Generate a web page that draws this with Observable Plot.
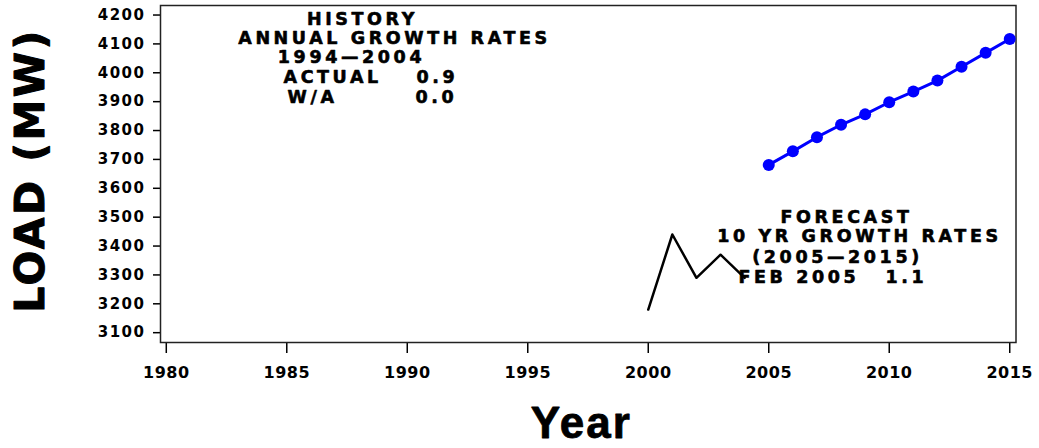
<!DOCTYPE html>
<html>
<head>
<meta charset="utf-8">
<script src="https://cdn.jsdelivr.net/npm/d3@7"></script>
<script src="https://cdn.jsdelivr.net/npm/@observablehq/plot@0.6"></script>
<style>
  html, body { margin: 0; padding: 0; background: #fff; }
  svg g[aria-label="y-axis tick label"] text { letter-spacing: 1.5px; }
  svg g[aria-label="x-axis tick label"] text { letter-spacing: 0.5px; }
  svg g[font-size="17.5"] text { letter-spacing: 3.6px; }
  svg g[font-size="41"] text { letter-spacing: 2.5px; }
  svg g[font-size="44"] text { letter-spacing: 2px; }
</style>
</head>
<body>
<div id="chart"></div>
<script>
// ---- data ----
const histYears = [2000, 2001, 2002, 2003, 2004];
const histLoad = [3180, 3440, 3290, 3370, 3290];
const fcYears = [2005, 2006, 2007, 2008, 2009, 2010, 2011, 2012, 2013, 2014, 2015];
const fcLoad = [3681, 3728, 3777, 3820, 3856, 3898, 3935, 3973, 4021, 4069, 4117];
const xTicks = [1980, 1985, 1990, 1995, 2000, 2005, 2010, 2015];
const yTicks = [3100, 3200, 3300, 3400, 3500, 3600, 3700, 3800, 3900, 4000, 4100, 4200];
const historyLines = ["HISTORY", "ANNUAL GROWTH RATES", "1994\u20142004"];
const historyRows = ["ACTUAL", "W/A"];
const historyRates = ["0.9", "0.0"];
const forecastLines = ["FORECAST", "10 YR GROWTH RATES", "(2005\u20142015)"];
const forecastRows = ["FEB 2005"];
const forecastRates = ["1.1"];
const xLabel = "Year";
const yLabel = "LOAD (MW)";

const hist = histYears.map((x, i) => ({x, y: histLoad[i]}));
const fc = fcYears.map((x, i) => ({x, y: fcLoad[i]}));

const ML = 160, MT = 5;
function note(str, px, py, anchor) {
  return Plot.text([str], {
    text: d => d, frameAnchor: "top-left", dx: px - ML, dy: py - MT,
    textAnchor: anchor, lineAnchor: "middle",
    fontSize: 17.5, fontWeight: "bold", fontFamily: "DejaVu Sans",
    fill: "black", stroke: "black", strokeWidth: 0.6
  });
}

const chart = Plot.plot({
  width: 1039,
  height: 448,
  marginLeft: ML,
  marginRight: 23.5,
  marginTop: MT,
  marginBottom: 106,
  style: {background: "white", color: "black", fontFamily: "DejaVu Sans"},
  x: {domain: [1979.76, 2015.26]},
  y: {domain: [3066, 4233]},
  marks: [
    Plot.axisX({ticks: xTicks, tickSize: 11, tickPadding: 13, tickFormat: d => String(d),
      fontSize: 16, fontWeight: "bold", fontFamily: "DejaVu Sans", strokeWidth: 1.5, label: null}),
    Plot.axisY({ticks: yTicks, tickSize: 7, tickPadding: 8, tickFormat: d => String(d),
      fontSize: 15, fontWeight: "bold", fontFamily: "DejaVu Sans", strokeWidth: 1.5, label: null}),
    Plot.frame({stroke: "#222", strokeWidth: 1.5}),
    Plot.line(hist, {x: "x", y: "y", stroke: "black", strokeWidth: 2.5}),
    Plot.line(fc, {x: "x", y: "y", stroke: "#0000ff", strokeWidth: 3}),
    Plot.dot(fc, {x: "x", y: "y", r: 6, fill: "#0000ff", stroke: "none"}),
    note(historyLines[0], 362, 18.5, "middle"),
    note(historyLines[1], 394, 38, "middle"),
    note(historyLines[2], 351, 57, "middle"),
    note(historyRows[0], 283, 76.7, "start"),
    note(historyRates[0], 416, 76.7, "start"),
    note(historyRows[1], 287, 96.7, "start"),
    note(historyRates[1], 415, 96.7, "start"),
    note(forecastLines[0], 846, 217, "middle"),
    note(forecastLines[1], 859, 236, "middle"),
    note(forecastLines[2], 837, 257, "middle"),
    note(forecastRows[0], 738, 276.5, "start"),
    note(forecastRates[0], 885, 276.5, "start"),
    Plot.text([yLabel], {text: d => d, frameAnchor: "left", dx: -130, dy: -3.5, rotate: -90,
      textAnchor: "middle", lineAnchor: "middle", fontSize: 41, fontWeight: "bold", fontFamily: "DejaVu Sans",
      fill: "black", stroke: "black", strokeWidth: 1}),
    Plot.text([xLabel], {text: d => d, frameAnchor: "bottom", dx: -7, dy: 81,
      textAnchor: "middle", lineAnchor: "middle", fontSize: 44, fontWeight: "bold", fontFamily: "Liberation Sans",
      fill: "black", stroke: "black", strokeWidth: 0.8})
  ]
});
document.getElementById("chart").appendChild(chart);
</script>
</body>
</html>
